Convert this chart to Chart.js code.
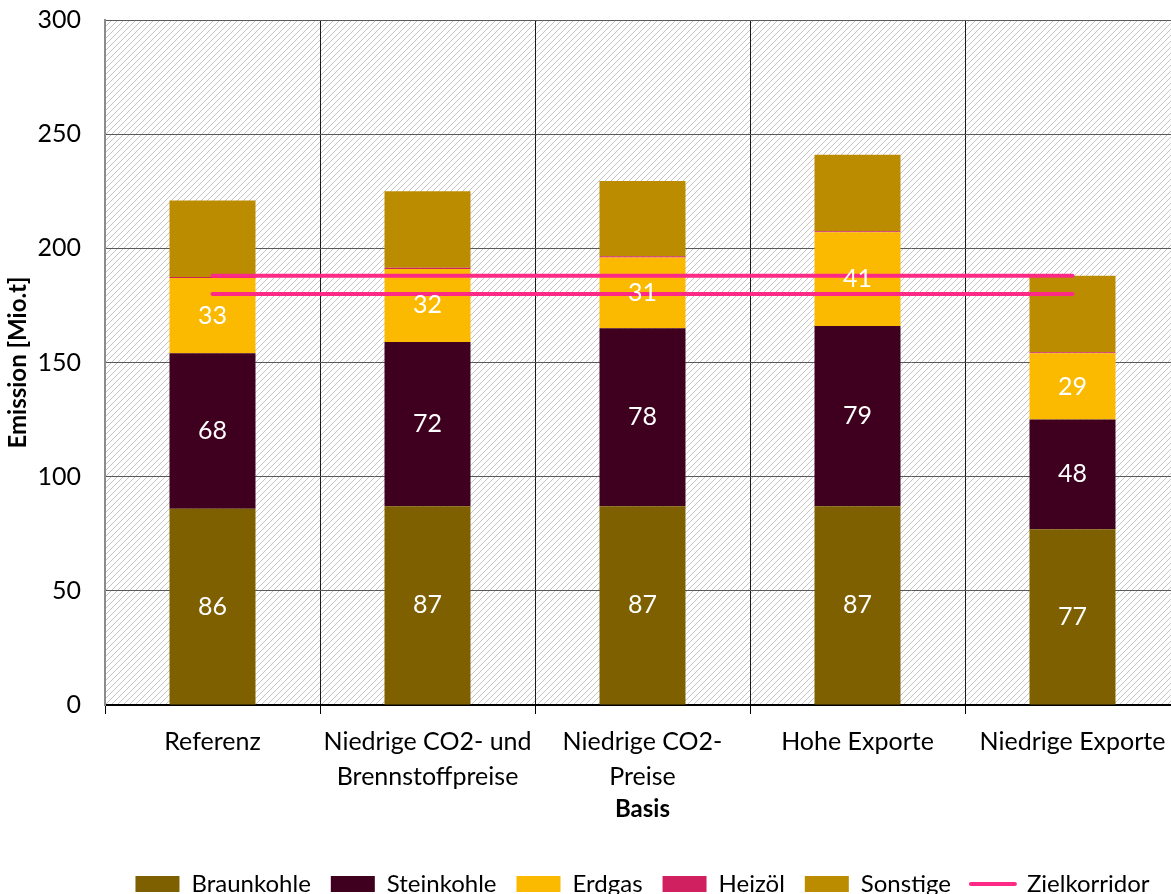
<!DOCTYPE html>
<html>
<head>
<meta charset="utf-8">
<script src="https://cdn.jsdelivr.net/npm/chart.js@4.4.1/dist/chart.umd.min.js"></script>
<style>
  html, body { margin: 0; padding: 0; background: #fff; overflow: hidden; }
  #wrap { width: 1190px; height: 906px; }
</style>
</head>
<body>
<div id="wrap"><canvas id="chart"></canvas></div>
<script>
// Szenarien (x-Achse)
const categories = [
  'Referenz',
  ['Niedrige CO2- und', 'Brennstoffpreise'],
  ['Niedrige CO2-', 'Preise'],
  'Hohe Exporte',
  'Niedrige Exporte'
];

// Emissionen je Energieträger [Mio.t]
const braunkohle = [86, 87, 87, 87, 77];
const steinkohle = [68, 72, 78, 79, 48];
const erdgas = [33, 32, 31, 41, 29];
const heizoel = [0.5, 0.5, 0.5, 0.5, 0.5];
const sonstige = [33.5, 33.5, 33, 33.5, 33.5];

// Zielkorridor (obere / untere Grenze)
const zielOben = [188, 188, 188, 188, 188];
const zielUnten = [180, 180, 180, 180, 180];

const yTicks = [0, 50, 100, 150, 200, 250, 300];

const FONT = 'Lato, "Open Sans", sans-serif';
const PINK = '#FF2A85';

// Schraffierter Hintergrund der Zeichenfläche
function makeHatch() {
  const s = 6;
  const c = document.createElement('canvas');
  c.width = s; c.height = s;
  const g = c.getContext('2d');
  g.fillStyle = '#ffffff';
  g.fillRect(0, 0, s, s);
  g.strokeStyle = '#c4c4c4';
  g.lineWidth = 1;
  g.beginPath();
  g.moveTo(0, s); g.lineTo(s, 0);
  g.moveTo(-1, 1); g.lineTo(1, -1);
  g.moveTo(s - 1, s + 1); g.lineTo(s + 1, s - 1);
  g.stroke();
  return c;
}

const hatchPlugin = {
  id: 'hatch',
  beforeDraw(chart) {
    const { ctx, chartArea: a } = chart;
    ctx.save();
    ctx.fillStyle = '#ffffff';
    ctx.fillRect(0, 0, chart.width, chart.height);
    ctx.fillStyle = ctx.createPattern(makeHatch(), 'repeat');
    ctx.fillRect(a.left, a.top, a.right - a.left, a.bottom - a.top);
    ctx.restore();
  }
};

// Werte in den Balken (nur Braunkohle, Steinkohle, Erdgas)
const valueLabels = {
  id: 'valueLabels',
  afterDatasetsDraw(chart) {
    const { ctx } = chart;
    ctx.save();
    ctx.fillStyle = '#ffffff';
    ctx.font = '25px ' + FONT;
    ctx.textAlign = 'center';
    ctx.textBaseline = 'middle';
    [0, 1, 2].forEach(di => {
      const meta = chart.getDatasetMeta(di);
      meta.data.forEach((bar, i) => {
        const v = chart.data.datasets[di].data[i];
        ctx.fillText(Math.round(v), bar.x, (bar.y + bar.base) / 2);
      });
    });
    ctx.restore();
  }
};

function barSet(label, data, color) {
  return {
    type: 'bar',
    label: label,
    data: data,
    backgroundColor: color,
    borderWidth: 0,
    barPercentage: 0.4,
    categoryPercentage: 1.0,
    stack: 'emission',
    order: 1
  };
}

function lineSet(label, data, stack) {
  return {
    type: 'line',
    label: label,
    data: data,
    stack: stack,
    borderColor: PINK,
    backgroundColor: PINK,
    borderWidth: 4,
    borderCapStyle: 'round',
    pointRadius: 0,
    fill: false,
    order: 0
  };
}

new Chart(document.getElementById('chart'), {
  data: {
    labels: categories,
    datasets: [
      barSet('Braunkohle', braunkohle, '#7F6000'),
      barSet('Steinkohle', steinkohle, '#3F001F'),
      barSet('Erdgas', erdgas, '#FBBA00'),
      barSet('Heizöl', heizoel, '#D02060'),
      barSet('Sonstige', sonstige, '#BC8C00'),
      lineSet('Zielkorridor', zielOben, 'ziel1'),
      lineSet('Zielkorridor unten', zielUnten, 'ziel2')
    ]
  },
  options: {
    responsive: true,
    maintainAspectRatio: false,
    animation: false,
    layout: { padding: { top: 20, right: 10, bottom: 0, left: 0 } },
    plugins: {
      tooltip: { enabled: false },
      legend: {
        position: 'bottom',
        fullSize: false,
        labels: {
          color: '#000',
          font: { family: FONT, size: 24 },
          usePointStyle: true,
          pointStyleWidth: 44,
          boxHeight: 16,
          padding: 20,
          sort: (a, b) => a.datasetIndex - b.datasetIndex,
          filter: item => item.datasetIndex !== 6,
          generateLabels: chart => {
            const items = Chart.defaults.plugins.legend.labels.generateLabels(chart);
            return items.map(it => {
              if (it.datasetIndex >= 5) {
                it.pointStyle = 'line';
                it.lineWidth = 4;
                it.strokeStyle = PINK;
                it.lineCap = 'round';
              } else {
                it.pointStyle = 'rect';
                it.lineWidth = 0;
              }
              return it;
            });
          }
        }
      }
    },
    scales: {
      x: {
        stacked: true,
        offset: true,
        grid: {
          color: '#1a1a1a',
          lineWidth: 1,
          offset: true,
          drawTicks: true,
          tickLength: 9,
          tickColor: '#000'
        },
        border: { color: '#000', width: 2 },
        ticks: {
          color: '#000',
          font: { family: FONT, size: 25, lineHeight: 1.4 },
          padding: 10,
          maxRotation: 0,
          autoSkip: false
        },
        title: {
          display: true,
          text: 'Basis',
          color: '#000',
          font: { family: FONT, size: 24, weight: 'bold' },
          padding: { top: 0, bottom: 28 }
        },
        afterFit: s => { s.height = 147; }
      },
      y: {
        stacked: true,
        min: 0,
        max: 300,
        afterBuildTicks: s => { s.ticks = yTicks.map(v => ({ value: v })); },
        grid: {
          color: '#595959',
          lineWidth: 1,
          drawTicks: false
        },
        border: { color: '#8c8c8c', width: 2 },
        ticks: {
          color: '#000',
          font: { family: FONT, size: 25 },
          padding: 24
        },
        title: {
          display: true,
          text: 'Emission [Mio.t]',
          color: '#000',
          font: { family: FONT, size: 24, weight: 'bold' },
          padding: { top: 4, bottom: 0 }
        },
        afterFit: s => { s.width = 105; s.paddingTop = 0; s.paddingBottom = 0; }
      }
    }
  },
  plugins: [hatchPlugin, valueLabels]
});
</script>
</body>
</html>
